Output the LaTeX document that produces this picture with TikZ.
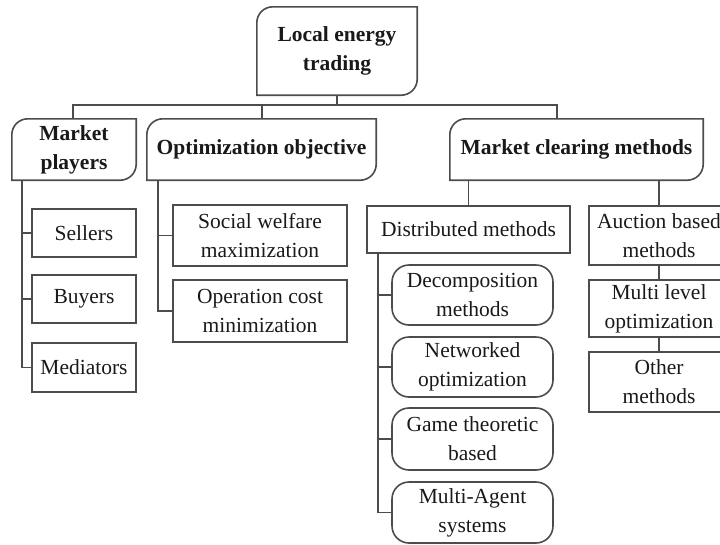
\documentclass[tikz,border=0pt]{standalone}
\usepackage{fontspec}
\setmainfont{Liberation Serif}
\usepackage{tikz}

\newcommand{\halfround}[1]{\draw[line] ([xshift=16pt]#1.north west) -- (#1.north east) -- ([yshift=16pt]#1.south east) arc[start angle=0,end angle=-90,radius=16pt] -- (#1.south west) -- ([yshift=-16pt]#1.north west) arc[start angle=180,end angle=90,radius=16pt] -- cycle;}

\begin{document}
\begin{tikzpicture}[x=1pt,y=-1pt,
	line/.style={draw=black!70, line width=1.6pt},
	txt/.style={inner sep=0pt, align=center, text=black!90, font=\fontsize{21.5}{29}\selectfont},
	head/.style={txt, font=\fontsize{21.5}{29}\selectfont\bfseries},
	leaf/.style={txt, line},
	oval/.style={txt, line, rounded corners=17pt}]
	\useasboundingbox (0,0) rectangle (720,544);
	\node[head, minimum width=160pt, minimum height=88pt] (root) at (337,51) {Local energy\\trading};
	\node[head, minimum width=124pt, minimum height=61pt] (players) at (74,149.5) {Market\\players};
	\node[head, minimum width=229pt, minimum height=61pt] (objective) at (261.5,149.5) {Optimization objective};
	\node[head, minimum width=253pt, minimum height=61pt] (clearing) at (576.5,149.5) {Market clearing methods};
	\halfround{root}
	\halfround{players}
	\halfround{objective}
	\halfround{clearing}
	\coordinate (bus) at (337,105);
	\draw[line] (root.south) -- (bus);
	\draw[line] (players.north -| 73,0) |- (bus) -| (clearing.north -| 557,0);
	\draw[line] (objective.north -| 262,0) -- (262,105);
	\node[leaf, minimum width=104pt, minimum height=48pt] (sellers) at (84,233) {Sellers};
	\node[leaf, minimum width=104pt, minimum height=48pt] (buyers) at (84,299) {Buyers};
	\node[leaf, minimum width=104pt, minimum height=49pt] (mediators) at (84,367.5) {Mediators};
	\draw[line] (players.south -| 22,0) |- (mediators.west);
	\draw[line] (sellers.west) -- (sellers.west -| 22,0);
	\draw[line] (buyers.west) -- (buyers.west -| 22,0);
	\node[leaf, minimum width=174pt, minimum height=61pt] (welfare) at (260,235.5) {Social welfare\\maximization};
	\node[leaf, minimum width=174pt, minimum height=62pt] (cost) at (260,311) {Operation cost\\minimization};
	\draw[line] (objective.south -| 158,0) |- (cost.west);
	\draw[line] (welfare.west) -- (welfare.west -| 158,0);
	\node[leaf, minimum width=203pt, minimum height=47pt] (distributed) at (468.5,229.5) {Distributed methods};
	\node[leaf, minimum width=140pt, minimum height=59pt] (auction) at (659,235.5) {Auction based\\methods};
	\draw[line] (clearing.south -| distributed.north) -- (distributed.north);
	\draw[line] (clearing.south -| auction.north) -- (auction.north);
	\node[oval, minimum width=161pt, minimum height=60pt] (decomp) at (472.5,295) {Decomposition\\methods};
	\node[oval, minimum width=161pt, minimum height=60pt] (networked) at (472.5,367) {Networked\\optimization};
	\node[oval, minimum width=161pt, minimum height=62pt] (game) at (472.5,439) {Game theoretic\\based};
	\node[oval, minimum width=161pt, minimum height=61pt] (agent) at (472.5,512.5) {Multi-Agent\\systems};
	\draw[line] (distributed.south -| 378,0) |- (agent.west);
	\draw[line] (decomp.west) -- (decomp.west -| 378,0);
	\draw[line] (networked.west) -- (networked.west -| 378,0);
	\draw[line] (game.west) -- (game.west -| 378,0);
	\node[leaf, minimum width=140pt, minimum height=57pt] (multilevel) at (659,308.5) {Multi level\\optimization};
	\node[leaf, minimum width=140pt, minimum height=60pt] (other) at (659,382) {Other\\methods};
	\draw[line] (auction.south) -- (multilevel.north);
	\draw[line] (multilevel.south) -- (other.north);
\end{tikzpicture}
\end{document}
